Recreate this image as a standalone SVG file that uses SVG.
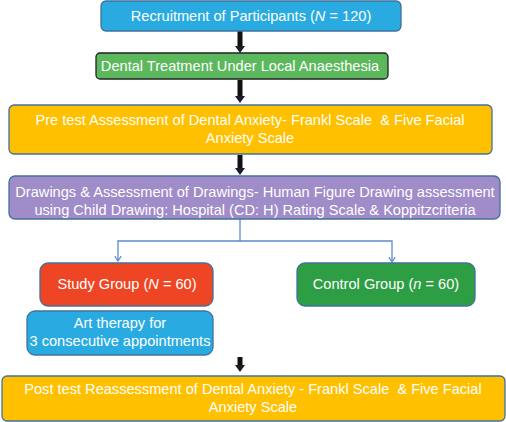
<svg xmlns="http://www.w3.org/2000/svg" width="506" height="422" viewBox="0 0 506 422">
<defs>
<style>
.t{font-family:"Liberation Sans",Arial,sans-serif;font-size:14.6px;fill:#fff;text-anchor:middle}
.pre{white-space:pre}
.box{stroke:#41719C;stroke-width:1.3}
.thick{stroke:#111;stroke-width:5;fill:none}
.head{fill:#1a1a2a}
.thin{stroke:#5B8BD0;stroke-width:1.3;fill:none}
</style>
<marker id="oh" viewBox="0 0 10 10" refX="9" refY="5" markerWidth="8" markerHeight="8" markerUnits="userSpaceOnUse" orient="auto">
<path d="M3,1 L9,5 L3,9" fill="none" stroke="#5B8BD0" stroke-width="1.5"/>
</marker>
</defs>
<rect width="506" height="422" fill="#fff"/>
<g id="connectors">
<path class="thick" d="M240,31 V47"/>
<polygon class="head" points="235,46 245,46 240,53"/>
<path class="thick" d="M240,80 V97"/>
<polygon class="head" points="235,96 245,96 240,103"/>
<path class="thick" d="M240,155 V169"/>
<polygon class="head" points="235,168 245,168 240,175"/>
<path class="thin" d="M240,219 V241 H118 V261" marker-end="url(#oh)"/>
<path class="thin" d="M240,241 H392 V262" marker-end="url(#oh)"/>
<path class="thick" d="M240,357 V366"/>
<polygon class="head" points="235,365 245,365 240,372"/>
</g>
<g id="recruit">
<rect class="box" x="101" y="1" width="300" height="30" rx="5" fill="#29ABE2"/>
<text class="t" x="251" y="21">Recruitment of Participants (<tspan font-style="italic">N</tspan> = 120)</text>
</g>
<g id="dental">
<rect x="96" y="53" width="292" height="26" rx="4" fill="#5CB85C" stroke="#222" stroke-width="1.3"/>
<text class="t" x="240" y="71">Dental Treatment Under Local Anaesthesia</text>
</g>
<g id="pretest">
<rect class="box" x="9" y="105" width="483" height="49" rx="5" fill="#FFC000" stroke="#5B8BD0"/>
<text class="t pre" x="250" y="125">Pre test Assessment of Dental Anxiety- Frankl Scale  &amp; Five Facial</text>
<text class="t" x="250" y="143">Anxiety Scale</text>
</g>
<g id="drawings">
<rect class="box" x="9" y="176" width="491" height="43" rx="6" fill="#A08CC8"/>
<text class="t" x="255" y="197">Drawings &amp; Assessment of Drawings- Human Figure Drawing assessment</text>
<text class="t" x="255" y="215">using Child Drawing: Hospital (CD: H) Rating Scale &amp; Koppitzcriteria</text>
</g>
<g id="study">
<rect class="box" x="40" y="263" width="173" height="43" rx="8" fill="#EE4524"/>
<text class="t" x="127" y="289">Study Group (<tspan font-style="italic">N</tspan> = 60)</text>
</g>
<g id="control">
<rect class="box" x="297" y="263" width="178" height="43" rx="8" fill="#2E9E45"/>
<text class="t" x="386" y="289">Control Group (<tspan font-style="italic">n</tspan> = 60)</text>
</g>
<g id="art">
<rect class="box" x="27" y="311" width="186" height="44" rx="8" fill="#29ABE2"/>
<text class="t" x="120" y="328">Art therapy for</text>
<text class="t" x="120" y="346">3 consecutive appointments</text>
</g>
<g id="posttest">
<rect class="box" x="2" y="376" width="503" height="45" rx="5" fill="#FFC000"/>
<text class="t pre" x="253" y="394">Post test Reassessment of Dental Anxiety - Frankl Scale  &amp; Five Facial</text>
<text class="t" x="253" y="412">Anxiety Scale</text>
</g>
</svg>
